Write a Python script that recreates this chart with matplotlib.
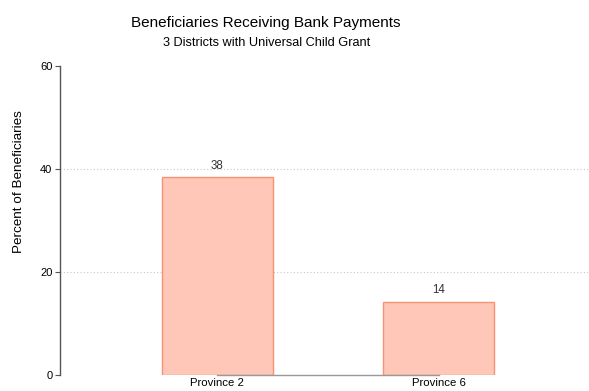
import matplotlib.pyplot as plt
import numpy as np

plt.rcParams['font.family'] = ['Liberation Sans', 'DejaVu Sans']

provinces = ['Province 2', 'Province 6']
pct = [38.4, 14.2]
value_labels = ['38', '14']
yticks = [0, 20, 40, 60]

fig = plt.figure(figsize=(5.89, 3.91), dpi=100)
ax = fig.add_axes([0.102, 0.041, 0.898, 0.790])

x = np.arange(len(provinces))
bars = ax.bar(x, pct, width=0.5, color='#fec7b8', edgecolor='#f79373', linewidth=1.0, zorder=3)

for b, lab in zip(bars, value_labels):
    ax.annotate(lab, (b.get_x() + b.get_width() / 2, b.get_height()),
                xytext=(0, 4), textcoords='offset points',
                ha='center', va='bottom', fontsize=8.3, color='#333333')

# dotted grid lines (not at the top tick)
for yv in yticks[:-1]:
    ax.axhline(yv, color='#c8c8c8', lw=0.8, ls=(0, (1, 2)), zorder=1)

ax.set_xlim(-0.71, 1.68)
ax.set_ylim(0, 60)
ax.set_xticks(x)
ax.set_xticklabels(provinces, fontsize=8.2)
ax.set_yticks(yticks)
ax.tick_params(axis='x', length=0, pad=2)
ax.tick_params(axis='y', length=3.5, width=0.8, color='#555555', labelsize=8, pad=2)

for s in ['top', 'right']:
    ax.spines[s].set_visible(False)
ax.spines['left'].set_color('#555555')
ax.spines['left'].set_linewidth(1.0)
ax.spines['bottom'].set_bounds(0, 1)
ax.spines['bottom'].set_color('#999999')
ax.spines['bottom'].set_linewidth(1.0)
ax.spines['bottom'].set_zorder(4)

fig.text(0.033, 0.535, 'Percent of Beneficiaries', rotation=90, ha='center', va='center', fontsize=9.7)
fig.text(0.452, 0.941, 'Beneficiaries Receiving Bank Payments', ha='center', va='center', fontsize=11)
fig.text(0.452, 0.891, '3 Districts with Universal Child Grant', ha='center', va='center', fontsize=9.2)

fig.savefig('out.png', dpi=100)
